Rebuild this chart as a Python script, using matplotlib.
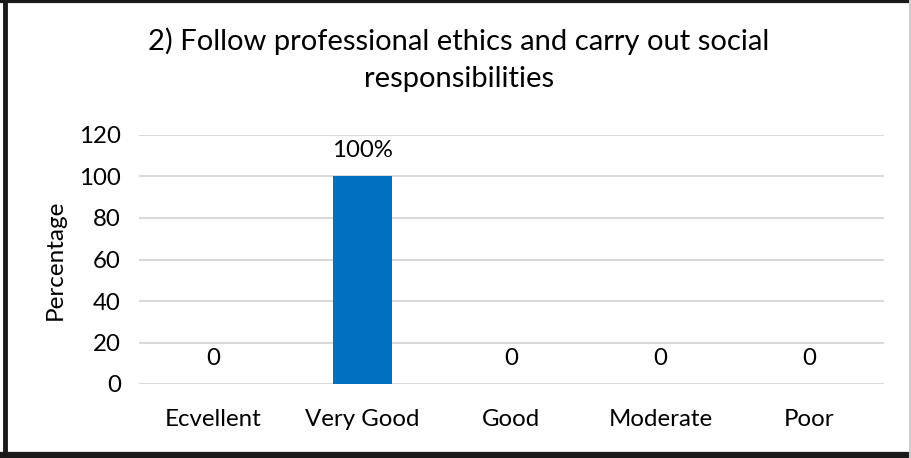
import matplotlib.pyplot as plt
from matplotlib.lines import Line2D

# === data ===
categories = ["Ecvellent", "Very Good", "Good", "Moderate", "Poor"]
values = [0, 100, 0, 0, 0]
value_labels = ["0", "100%", "0", "0", "0"]
yticks = [0, 20, 40, 60, 80, 100, 120]

plt.rcParams['font.family'] = ['Lato', 'DejaVu Sans']

fig = plt.figure(figsize=(9.12, 4.58), dpi=100)
ax = fig.add_axes([139/912, 1 - 384/458, (884-139)/912, (384-135)/458])

ax.bar(categories, values, width=0.39, color="#0070C0", zorder=3)
ax.set_ylim(0, 120)
ax.set_xlim(-0.5, len(categories) - 0.5)
ax.set_yticks(yticks)
ax.grid(axis='y', color="#D9D9D9", linewidth=1.5, zorder=0)
for s in ax.spines.values():
    s.set_visible(False)
ax.tick_params(axis='both', length=0, labelsize=17.3, colors="#000000")
ax.tick_params(axis='x', pad=18)
ax.tick_params(axis='y', pad=13)

for i, (v, lab) in enumerate(zip(values, value_labels)):
    ax.annotate(lab, (i, v), xytext=(0, 18.5), textcoords='offset points',
                ha='center', va='center', fontsize=17.3)

fig.text(55/912, 1 - 260/458, "Percentage", rotation=90, ha='center', va='center',
         fontsize=17.5)

fig.text(459/912, 1 - 41/458, "2) Follow professional ethics and carry out social",
         ha='center', va='center', fontsize=21)
fig.text(459/912, 1 - 79/458, "responsibilities", ha='center', va='center', fontsize=21)

# === frame ===
fig.add_artist(Line2D([5/912, 5/912], [0, 1], transform=fig.transFigure, color='#1a1a1a', lw=3.5))
fig.add_artist(Line2D([0, 1], [1 - 1/458, 1 - 1/458], transform=fig.transFigure, color='#1a1a1a', lw=3))
fig.add_artist(Line2D([0, 1], [3/458, 3/458], transform=fig.transFigure, color='#1a1a1a', lw=4.5))
fig.add_artist(Line2D([910.5/912, 910.5/912], [0, 1], transform=fig.transFigure, color='#cccccc', lw=1.5))

fig.savefig("out.png", dpi=100)
